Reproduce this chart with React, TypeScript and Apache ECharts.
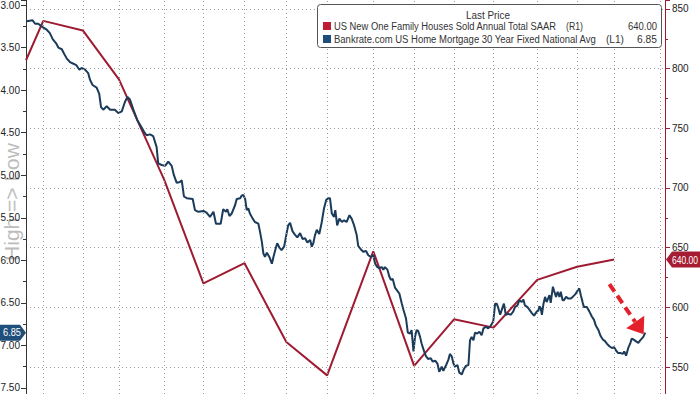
import React, { useEffect, useRef } from 'react';
import * as echarts from 'echarts';

// Bankrate 30Y mortgage rate (left axis, inverted) — x in weeks from left edge
const blueT = [0.2,2.1,2.9,3.9,5.3,6.6,7.6,8.5,9.6,10.3,11.4,12.1,13.0,14.0,15.1,16.1,17.0,17.7,18.8,19.8,20.4,21.2,22.5,23.3,23.9,24.6,25.7,26.8,28.3,29.4,30.5,31.5,32.3,33.1,34.2,35.4,36.5,37.6,38.4,39.5,40.5,41.6,42.1,43.2,44.3,45.3,46.4,47.1,48.0,49.0,49.6,50.3,51.2,53.1,53.8,54.9,56.5,57.5,58.6,59.7,60.5,61.2,62.0,62.8,63.7,64.1,64.8,65.5,66.6,67.1,68.2,68.7,69.2,69.8,70.3,70.8,71.3,72.2,72.9,74.0,74.5,75.1,75.6,76.1,76.7,77.5,78.3,78.8,79.6,80.0,80.7,81.4,82.2,83.0,83.5,84.1,84.9,85.7,86.4,87.3,88.1,88.9,89.6,90.5,91.0,91.5,92.0,92.6,93.4,94.2,94.9,95.6,96.3,96.8,97.4,98.1,98.5,99.1,99.8,100.6,101.3,102.1,103.0,103.7,104.5,105.3,105.8,106.6,107.4,108.3,109.0,109.8,110.6,111.2,111.9,112.5,113.3,113.8,114.3,115.1,115.7,116.2,116.8,117.5,118.1,118.9,119.7,120.2,121.0,121.6,122.3,122.8,123.4,123.9,124.4,124.9,125.5,126.0,126.8,127.4,128.1,128.9,129.5,130.3,131.0,131.6,132.4,132.9,133.8,134.5,135.0,135.6,136.1,136.6,137.4,138.0,138.8,139.3,140.1,140.9,141.4,141.9,142.5,143.0,143.7,144.4,145.1,145.7,146.5,147.2,148.0,148.8,149.4,149.9,150.4,151.0,151.8,152.2,152.8,153.6,154.4,155.2,155.7,156.5,157.1,157.9,158.4,158.9,159.7,160.3,161.1,161.8,162.7,163.2,163.5,163.9,164.3,164.8,165.3,165.8,166.7,167.1,167.8,168.2,168.8,169.3,169.9,170.3,170.9,171.3,172.0,172.7,173.5,174.1,174.9,175.6,176.2,176.7,177.3,177.7,178.6,179.4,180.2,180.9,181.5,182.3,183.0,183.7,184.4,185.0,185.8,186.6,187.3,187.9,188.6,189.4,190.1,190.5,191.1,191.8,192.4,192.9,193.4,194.2,195.0,195.6,196.1,196.6,197.2];
const blueV = [3.19,3.18,3.22,3.22,3.26,3.29,3.33,3.40,3.45,3.50,3.52,3.57,3.63,3.67,3.69,3.71,3.76,3.74,3.76,3.80,3.88,3.94,3.97,4.04,4.20,4.23,4.19,4.23,4.23,4.27,4.25,4.14,4.08,4.11,4.23,4.35,4.42,4.49,4.53,4.52,4.54,4.67,4.86,4.88,4.89,4.84,4.89,5.00,5.09,5.08,5.06,5.25,5.27,5.28,5.41,5.43,5.42,5.44,5.49,5.43,5.57,5.57,5.57,5.40,5.43,5.40,5.48,5.45,5.35,5.28,5.27,5.24,5.23,5.28,5.41,5.39,5.45,5.51,5.55,5.57,5.66,5.78,5.92,5.96,5.91,5.96,6.04,5.96,5.85,5.80,5.85,5.88,5.84,5.68,5.59,5.56,5.66,5.70,5.73,5.68,5.75,5.74,5.79,5.76,5.84,5.80,5.71,5.64,5.69,5.55,5.39,5.29,5.27,5.27,5.45,5.49,5.41,5.59,5.51,5.55,5.53,5.55,5.47,5.51,5.59,5.70,5.83,5.87,5.90,5.89,5.94,5.96,5.94,6.04,6.08,6.09,6.08,6.11,6.08,6.11,6.19,6.23,6.22,6.32,6.35,6.39,6.51,6.58,6.68,6.85,6.86,6.82,7.07,6.90,6.82,6.83,6.90,6.98,7.07,7.13,7.16,7.15,7.19,7.18,7.21,7.31,7.25,7.30,7.23,7.17,7.10,7.13,7.21,7.25,7.23,7.32,7.34,7.29,7.24,7.23,6.94,6.90,6.94,6.85,6.86,6.84,6.88,6.80,6.78,6.80,6.77,6.72,6.51,6.51,6.56,6.64,6.55,6.51,6.64,6.63,6.64,6.60,6.55,6.53,6.47,6.49,6.46,6.53,6.55,6.58,6.62,6.65,6.60,6.59,6.54,6.56,6.64,6.51,6.43,6.49,6.41,6.50,6.31,6.36,6.43,6.37,6.43,6.37,6.47,6.47,6.43,6.45,6.45,6.43,6.40,6.36,6.33,6.41,6.50,6.55,6.55,6.60,6.66,6.70,6.77,6.82,6.89,6.93,6.95,6.98,7.01,7.03,7.02,7.06,7.09,7.09,7.10,7.07,7.12,7.03,6.98,6.92,6.93,6.95,6.97,6.94,6.92,6.90,6.85];

// New one family houses sold SAAR (right axis)
const redT = [0, 5.5, 18.1, 29.6, 44.0, 56.5, 69.6, 82.9, 95.9, 110.6, 123.6, 136.3, 148.9, 162.8, 175.5, 187.3];
const redV = [807, 840, 832, 791, 707, 620, 637, 571, 543, 647, 551, 590, 583, 623, 634, 640];

// vertical grid positions (period ends)
const gridT = [5.5, 18.1, 29.6, 44.0, 56.5, 69.6, 82.9, 95.9, 110.6, 123.6, 136.3, 148.9, 162.8, 175.5, 187.3, 201.9];

// annotation arrow (data coords on left axis)
const arrowFrom = [185.8, 6.28];
const arrowTo = [196.7, 6.87];

const legendTitle = 'Last Price';
const redName = 'US New One Family Houses Sold Annual Total SAAR';
const blueName = 'Bankrate.com US Home Mortgage 30 Year Fixed National Avg';
const redTag = '(R1)';
const blueTag = '(L1)';
const sideText = 'High => Low';

const FONT = '"Liberation Sans", Arial, sans-serif';
const RED = '#9e1b32';
const BLUE = '#1b3b5a';
const GRIDC = '#9a9a9a';

export default function App() {
  const ref = useRef<HTMLDivElement>(null);
  useEffect(() => {
    document.body.style.margin = '0';
    const chart = echarts.init(ref.current as HTMLDivElement, null, { renderer: 'svg' });
    const option: any = {
      animation: false,
      grid: { left: 26, right: 35, top: 0, bottom: 0, containLabel: false, outerBoundsMode: 'none' },
      xAxis: { type: 'value', min: 0, max: 203.5, show: false },
      yAxis: [
        {
          type: 'value', inverse: true, min: 2.941, max: 7.571, minInterval: 0.5, maxInterval: 0.5, position: 'left',
          axisLine: { show: true, lineStyle: { color: '#333', width: 1 } },
          axisTick: { show: true, length: 5, lineStyle: { color: '#333' } },
          minorTick: { show: true, splitNumber: 2, length: 3, lineStyle: { color: '#333' } },
          axisLabel: { margin: 6, color: '#222', fontSize: 10, fontFamily: FONT, showMinLabel: false, showMaxLabel: false,
            formatter: (v: number) => v.toFixed(2) },
          splitLine: { show: false },
        },
        {
          type: 'value', min: 527.4, max: 857.5, minInterval: 50, maxInterval: 50, position: 'right',
          axisLine: { show: true, lineStyle: { color: RED, width: 1 } },
          axisTick: { show: true, length: 5, lineStyle: { color: RED } },
          minorTick: { show: true, splitNumber: 2, length: 3, lineStyle: { color: RED } },
          axisLabel: { margin: 7, color: '#222', fontSize: 10, fontFamily: FONT, showMinLabel: false, showMaxLabel: false,
            formatter: (v: number) => String(Math.round(v)) },
          splitLine: { show: true, showMinLine: false, showMaxLine: false, lineStyle: { color: GRIDC, type: [1, 3], width: 1 } },
        },
      ],
      series: [
        {
          type: 'line', yAxisIndex: 1, data: redT.map((t, i) => [t, redV[i]]), showSymbol: false,
          lineStyle: { color: RED, width: 2 }, z: 3,
          markLine: {
            silent: true, symbol: 'none', label: { show: false }, animation: false,
            lineStyle: { color: GRIDC, type: [1, 3], width: 1 },
            data: gridT.map((t) => ({ xAxis: t })),
          },
        },
        {
          type: 'line', yAxisIndex: 0, data: blueT.map((t, i) => [t, blueV[i]]), showSymbol: false,
          lineStyle: { color: BLUE, width: 2 }, z: 4,
        },
      ],
    };
    chart.setOption(option);

    const ctx = document.createElement('canvas').getContext('2d') as CanvasRenderingContext2D;
    const fit = (text: string, size: number, target: number) => {
      ctx.font = `${size}px "Liberation Sans", Arial, sans-serif`;
      const w = ctx.measureText(text).width || target;
      return target / w;
    };
    const txt = (text: string, x: number, y: number, align: string, target: number, fill = '#333', size = 11, z = 11) => ({
      type: 'text', x, y, z, scaleX: fit(text, size, target),
      style: { text, fill, font: `${size}px ${FONT}`, align, verticalAlign: 'middle' },
    });

    const lastBlue = blueV[blueV.length - 1];
    const lastRed = redV[redV.length - 1];
    const yB = (chart.convertToPixel({ xAxisIndex: 0, yAxisIndex: 0 } as any, [0, lastBlue]) as number[])[1];
    const yR = (chart.convertToPixel({ xAxisIndex: 0, yAxisIndex: 1 } as any, [0, lastRed]) as number[])[1];
    const p0 = chart.convertToPixel({ xAxisIndex: 0, yAxisIndex: 0 } as any, arrowFrom) as number[];
    const p1 = chart.convertToPixel({ xAxisIndex: 0, yAxisIndex: 0 } as any, arrowTo) as number[];
    const dx = p1[0] - p0[0], dy = p1[1] - p0[1];
    const len = Math.sqrt(dx * dx + dy * dy);
    const ux = dx / len, uy = dy / len;
    const headL = 15, headW = 11;
    const bx = p1[0] - ux * headL, by = p1[1] - uy * headL;

    const graphic: any[] = [
      {
        type: 'text', x: 11, y: 202, rotation: Math.PI / 2, z: -1,
        style: { text: sideText, fill: '#bdbdbd', font: `21px ${FONT}`, align: 'center', verticalAlign: 'middle' },
      },
      // legend box
      { type: 'rect', shape: { x: 317.5, y: 4.5, width: 344, height: 43, r: 3 }, style: { fill: '#fff', stroke: '#555', lineWidth: 1 }, z: 10 },
      txt(legendTitle, 488, 15, 'center', 44),
      { type: 'rect', shape: { x: 323, y: 22, width: 8, height: 8 }, style: { fill: '#c01d34' }, z: 11 },
      txt(redName, 334, 26, 'left', 223),
      txt(redTag, 566, 26, 'left', 17),
      txt(lastRed.toFixed(2), 657, 26, 'right', 29),
      { type: 'rect', shape: { x: 323, y: 35, width: 8, height: 8 }, style: { fill: '#1f4e7a' }, z: 11 },
      txt(blueName, 334, 39, 'left', 263),
      txt(blueTag, 606, 39, 'left', 18),
      txt(lastBlue.toFixed(2), 657, 39, 'right', 20),
      // last value tags
      { type: 'polygon', z: 12, shape: { points: [[0, yB - 8], [20, yB - 8], [26, yB], [20, yB + 8], [0, yB + 8]] }, style: { fill: '#1f4e7a' } },
      txt(lastBlue.toFixed(2), 12, yB, 'center', 18, '#fff', 11, 13),
      { type: 'polygon', z: 12, shape: { points: [[666, yR], [672, yR - 8], [700, yR - 8], [700, yR + 8], [672, yR + 8]] }, style: { fill: '#a51c33' } },
      txt(lastRed.toFixed(2), 698, yR, 'right', 26, '#fff', 11, 13),
      // arrow
      { type: 'line', z: 12, shape: { x1: p0[0], y1: p0[1], x2: bx, y2: by }, style: { stroke: '#e3212d', lineWidth: 4, lineDash: [9, 5] } },
      { type: 'polygon', z: 12, shape: { points: [[p1[0], p1[1]], [bx - uy * headW, by + ux * headW], [bx + uy * headW, by - ux * headW]] }, style: { fill: '#e3212d' } },
    ];
    chart.setOption({ graphic });

    return () => chart.dispose();
  }, []);
  return <div ref={ref} style={{ width: 700, height: 394 }} />;
}
